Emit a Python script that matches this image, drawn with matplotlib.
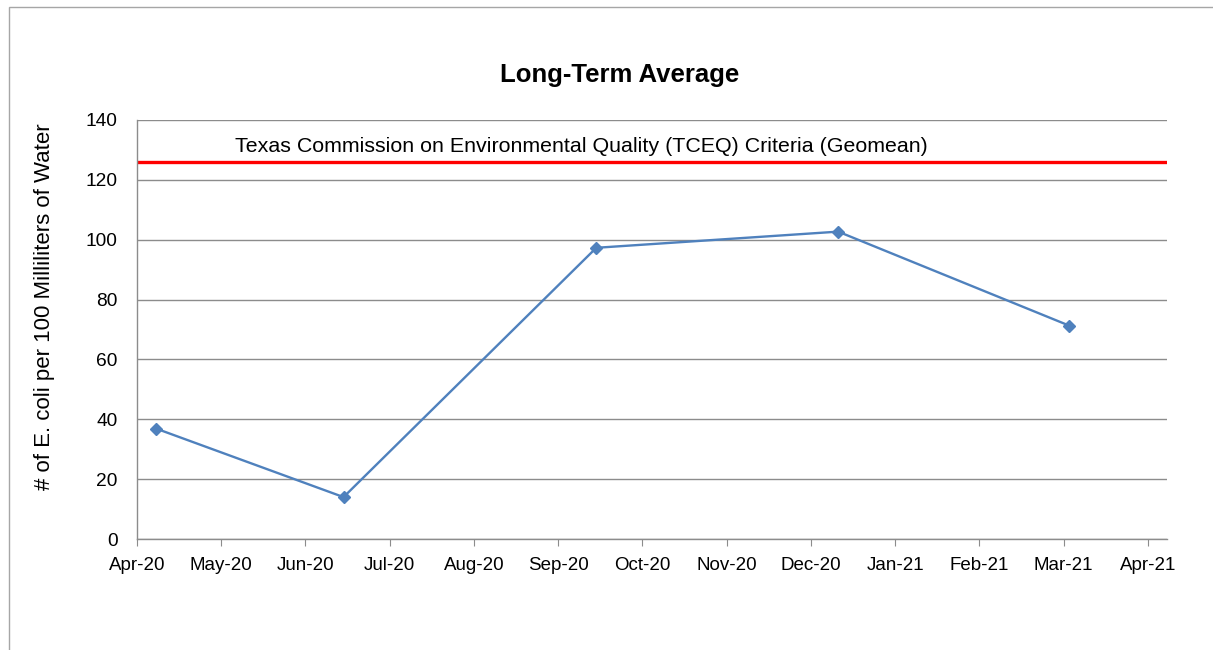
import pandas as pd
import matplotlib.pyplot as plt
import matplotlib.dates as mdates
from matplotlib.patches import Rectangle

# sample dates and long-term average values
dates = pd.to_datetime(['2020-04-08', '2020-06-16', '2020-09-17', '2020-12-15', '2021-03-10'])
ecoli = [36.9, 14.0, 97.3, 102.7, 71.3]
criteria = 126
criteria_label = 'Texas Commission on Environmental Quality (TCEQ) Criteria (Geomean)'

# Excel-style axis: ticks every 31 days from Apr 1 2020
tick_dates = pd.date_range('2020-04-01', periods=13, freq='31D')

plt.rcParams['font.family'] = ['Liberation Sans', 'DejaVu Sans']

fig = plt.figure(figsize=(12.13, 6.5), dpi=100)
fig.patches.append(Rectangle((9 / 1213, -0.01), 1.2, 1 - 7 / 650 + 0.01, transform=fig.transFigure,
                             fill=False, edgecolor='#a6a6a6', linewidth=1))
ax = fig.add_axes([137 / 1213, 1 - 539 / 650, (1167 - 137) / 1213, (539 - 120) / 650])

ax.plot(dates, ecoli, color='#4f81bd', linewidth=1.7, marker='D', markersize=6.5,
        markerfacecolor='#4f81bd', markeredgecolor='#4f81bd', zorder=3)
ax.axhline(criteria, color='#ff0000', linewidth=2.4, zorder=2)
ax.text(0.095, 131.3, criteria_label, transform=ax.get_yaxis_transform(),
        fontsize=15.4, va='center', ha='left', color='black')

ax.set_ylim(0, 140)
ax.set_yticks(range(0, 141, 20))
ax.set_xlim(tick_dates[0], tick_dates[-1] + pd.Timedelta(days=7))
ax.set_xticks(tick_dates)
ax.xaxis.set_major_formatter(mdates.DateFormatter('%b-%y'))

ax.grid(axis='y', color='#8c8c8c', linewidth=1)
ax.set_axisbelow(True)
for s in ['top', 'right']:
    ax.spines[s].set_visible(False)
for s in ['left', 'bottom']:
    ax.spines[s].set_color('#8c8c8c')
    ax.spines[s].set_linewidth(1)

ax.tick_params(axis='y', length=0, pad=14, labelsize=13.8)
ax.tick_params(axis='x', length=5, color='#8c8c8c', direction='out', pad=8, labelsize=13.5)

fig.text(45 / 1213, 1 - 307 / 650, '# of E. coli per 100 Milliliters of Water', fontsize=16,
         rotation=90, ha='center', va='center')
fig.text(620 / 1213, 1 - 75 / 650, 'Long-Term Average', fontsize=18.5, fontweight='bold',
         ha='center', va='center')

plt.savefig('out.png', dpi=100)
